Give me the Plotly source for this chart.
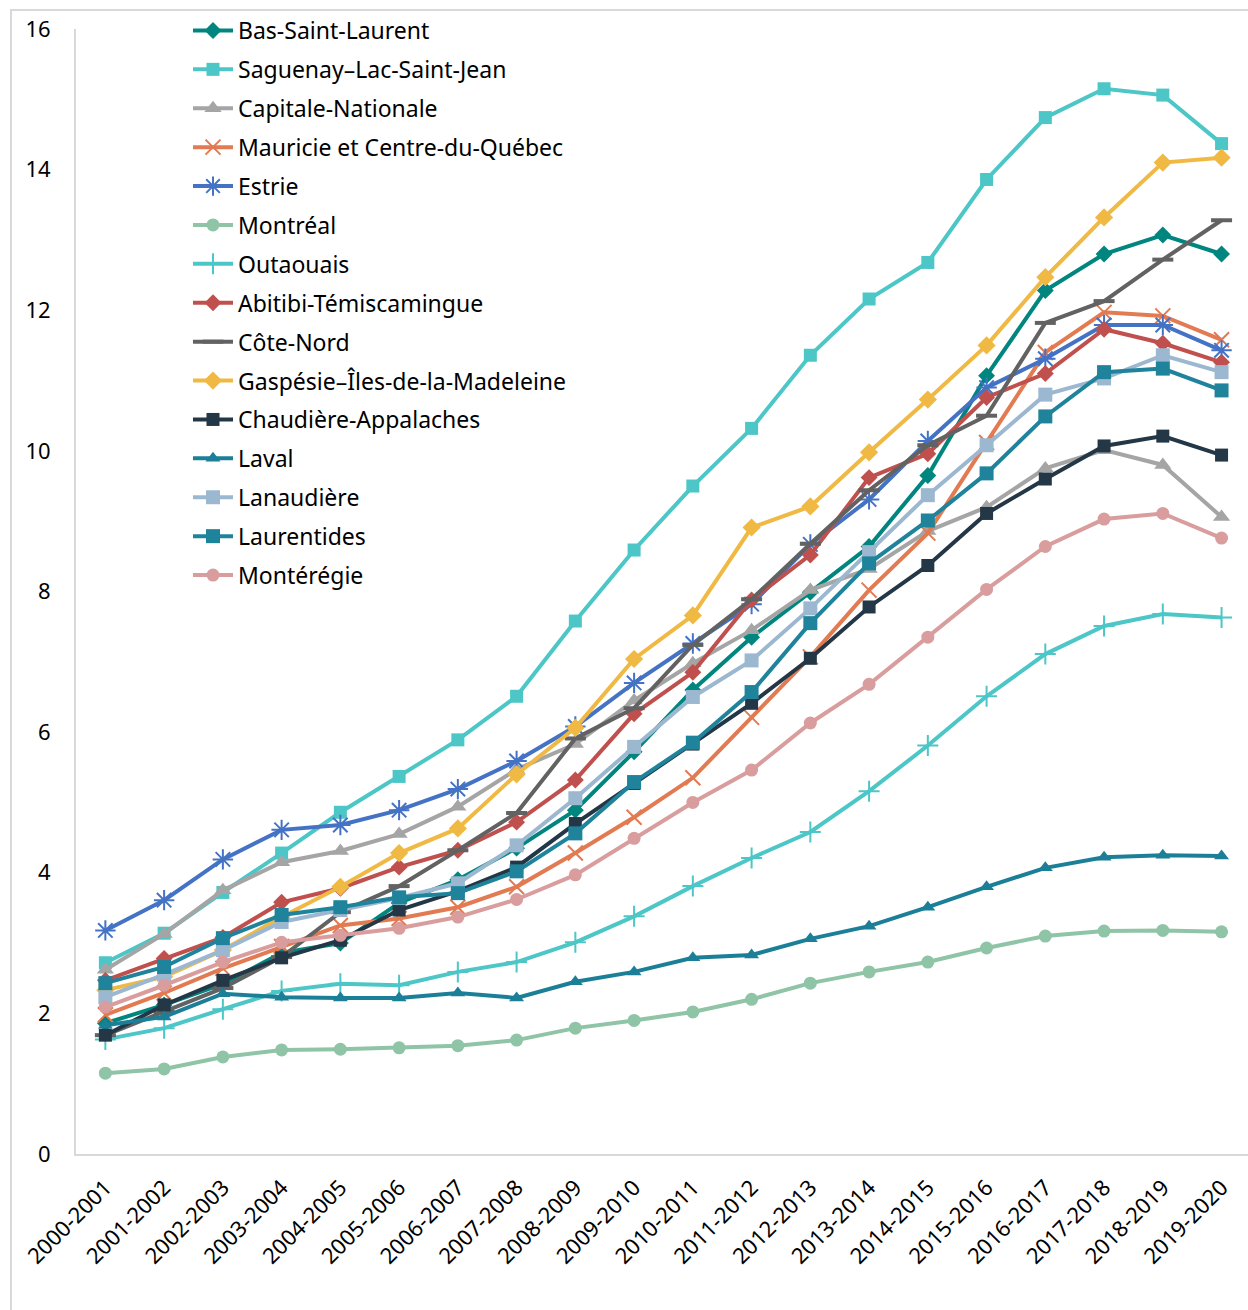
import plotly.graph_objects as go

# School years on the horizontal axis
years = ["2000-2001", "2001-2002", "2002-2003", "2003-2004", "2004-2005",
         "2005-2006", "2006-2007", "2007-2008", "2008-2009", "2009-2010",
         "2010-2011", "2011-2012", "2012-2013", "2013-2014", "2014-2015",
         "2015-2016", "2016-2017", "2017-2018", "2018-2019", "2019-2020"]

bas_saint_laurent = [1.86, 2.12, 2.42, 2.86, 3.00, 3.57, 3.90, 4.35, 4.89, 5.72,
                     6.60, 7.35, 7.99, 8.64, 9.65, 11.07, 12.28, 12.80, 13.07, 12.80]
saguenay = [2.72, 3.14, 3.72, 4.28, 4.86, 5.37, 5.89, 6.51, 7.58, 8.59,
            9.50, 10.32, 11.36, 12.16, 12.68, 13.86, 14.74, 15.15, 15.06, 14.37]
capitale = [2.62, 3.13, 3.75, 4.15, 4.31, 4.55, 4.94, 5.47, 5.83, 6.45,
            6.98, 7.45, 8.02, 8.32, 8.86, 9.20, 9.75, 10.01, 9.80, 9.06]
mauricie = [1.98, 2.29, 2.64, 2.95, 3.25, 3.35, 3.51, 3.80, 4.28, 4.79,
            5.35, 6.21, 7.07, 8.02, 8.83, 10.12, 11.40, 11.97, 11.92, 11.58]
estrie = [3.18, 3.61, 4.19, 4.61, 4.68, 4.89, 5.19, 5.59, 6.08, 6.70,
          7.26, 7.82, 8.67, 9.31, 10.14, 10.90, 11.31, 11.79, 11.79, 11.43]
montreal = [1.15, 1.21, 1.38, 1.48, 1.49, 1.51, 1.54, 1.62, 1.79, 1.90,
            2.02, 2.20, 2.43, 2.59, 2.73, 2.93, 3.10, 3.17, 3.18, 3.16]
outaouais = [1.63, 1.79, 2.06, 2.32, 2.42, 2.40, 2.59, 2.73, 3.01, 3.38,
             3.81, 4.21, 4.58, 5.16, 5.81, 6.51, 7.11, 7.51, 7.68, 7.63]
abitibi = [2.47, 2.78, 3.08, 3.58, 3.78, 4.08, 4.32, 4.72, 5.32, 6.26,
           6.85, 7.88, 8.52, 9.62, 9.96, 10.76, 11.10, 11.73, 11.53, 11.26]
cote_nord = [1.69, 2.02, 2.36, 2.80, 3.44, 3.81, 4.32, 4.85, 5.91, 6.34,
             7.24, 7.89, 8.68, 9.44, 10.08, 10.50, 11.82, 12.13, 12.72, 13.28]
gaspesie = [2.33, 2.52, 2.90, 3.37, 3.80, 4.28, 4.63, 5.40, 6.06, 7.04,
            7.66, 8.91, 9.21, 9.98, 10.73, 11.50, 12.47, 13.32, 14.10, 14.17]
chaudiere = [1.69, 2.12, 2.47, 2.79, 3.04, 3.47, 3.74, 4.08, 4.70, 5.27,
             5.83, 6.41, 7.05, 7.78, 8.37, 9.11, 9.60, 10.07, 10.21, 9.94]
laval = [1.83, 1.95, 2.28, 2.23, 2.22, 2.22, 2.29, 2.22, 2.45, 2.59,
         2.79, 2.83, 3.06, 3.24, 3.51, 3.80, 4.07, 4.22, 4.25, 4.24]
lanaudiere = [2.23, 2.55, 2.90, 3.30, 3.47, 3.64, 3.85, 4.39, 5.06, 5.79,
              6.50, 7.02, 7.76, 8.56, 9.37, 10.08, 10.80, 11.03, 11.36, 11.12]
laurentides = [2.43, 2.66, 3.07, 3.40, 3.51, 3.65, 3.71, 4.02, 4.56, 5.29,
               5.85, 6.57, 7.55, 8.40, 9.01, 9.68, 10.49, 11.12, 11.17, 10.86]
monteregie = [2.09, 2.40, 2.73, 3.01, 3.11, 3.21, 3.37, 3.62, 3.97, 4.49,
              5.00, 5.46, 6.13, 6.68, 7.35, 8.03, 8.64, 9.03, 9.11, 8.76]

y_ticks = [0, 2, 4, 6, 8, 10, 12, 14, 16]

# name, values, colour, marker symbol, marker size, open-symbol line width
series = [
    ("Bas-Saint-Laurent", bas_saint_laurent, "#00857f", "diamond", 13, 0),
    ("Saguenay–Lac-Saint-Jean", saguenay, "#4cc6c6", "square", 13, 0),
    ("Capitale-Nationale", capitale, "#a5a5a5", "triangle-up", 15, 0),
    ("Mauricie et Centre-du-Québec", mauricie, "#e27a52", "x-thin-open", 15, 2),
    ("Estrie", estrie, "#4472c4", "asterisk-open", 17, 2),
    ("Montréal", montreal, "#8fc4a6", "circle", 13, 0),
    ("Outaouais", outaouais, "#4cc6c6", "cross-thin-open", 15, 2),
    ("Abitibi-Témiscamingue", abitibi, "#c0504d", "diamond", 13, 0),
    ("Côte-Nord", cote_nord, "#626262", "line-ew-open", 15, 4),
    ("Gaspésie–Îles-de-la-Madeleine", gaspesie, "#f0b944", "diamond", 14, 0),
    ("Chaudière-Appalaches", chaudiere, "#243746", "square", 13, 0),
    ("Laval", laval, "#1b7f98", "triangle-up", 13, 0),
    ("Lanaudière", lanaudiere, "#9cb8d1", "square", 14, 0),
    ("Laurentides", laurentides, "#1f839b", "square", 14, 0),
    ("Montérégie", monteregie, "#d99d9d", "circle", 13, 0),
]

fig = go.Figure()
for i, (name, vals, color, symbol, size, lw) in enumerate(series):
    marker = dict(symbol=symbol, size=size, color=color)
    if lw:
        marker["line"] = dict(color=color, width=lw)
    fig.add_trace(go.Scatter(
        x=list(range(len(years))), y=vals, name=name, mode="lines+markers",
        line=dict(color=color, width=4), marker=marker,
        legendgroup=f"g{i}",
    ))

FONT = "Noto Sans"
PLOT_LEFT, PLOT_TOP, PLOT_BOTTOM, PLOT_W = 76, 29, 1154, 1172
PLOT_H = PLOT_BOTTOM - PLOT_TOP

fig.update_layout(
    width=1248, height=1310,
    margin=dict(l=PLOT_LEFT, r=0, t=PLOT_TOP, b=1310 - PLOT_BOTTOM, autoexpand=False),
    paper_bgcolor="white", plot_bgcolor="white",
    font=dict(family=FONT, size=22, color="#000000"),
    showlegend=True,
    legend=dict(
        x=(188 - PLOT_LEFT) / PLOT_W, y=(PLOT_BOTTOM - 9) / PLOT_H,
        xanchor="left", yanchor="top",
        bgcolor="rgba(0,0,0,0)", font=dict(family=FONT, size=23, color="#000000"),
        tracegroupgap=6, itemwidth=40,
    ),
    xaxis=dict(
        range=[-0.5, 19.45], tickmode="array",
        tickvals=list(range(len(years))), ticktext=years,
        tickangle=-45, showgrid=False, zeroline=False,
        showline=True, linecolor="#d9d9d9", linewidth=2,
        ticks="", ticklabelstandoff=10, tickfont=dict(family=FONT, size=22),
    ),
    yaxis=dict(
        range=[0, 16], tickmode="array", tickvals=y_ticks,
        showgrid=False, zeroline=False,
        showline=True, linecolor="#d9d9d9", linewidth=2,
        ticks="", ticklabelstandoff=19, tickfont=dict(family=FONT, size=22),
    ),
    shapes=[
        dict(type="rect", xref="paper", yref="paper",
             x0=(11 - PLOT_LEFT) / PLOT_W, x1=1.1,
             y0=-0.3, y1=(PLOT_BOTTOM - 10) / PLOT_H,
             line=dict(color="#d9d9d9", width=2), fillcolor="rgba(0,0,0,0)",
             layer="below"),
    ],
)

fig.write_html("out.html")
